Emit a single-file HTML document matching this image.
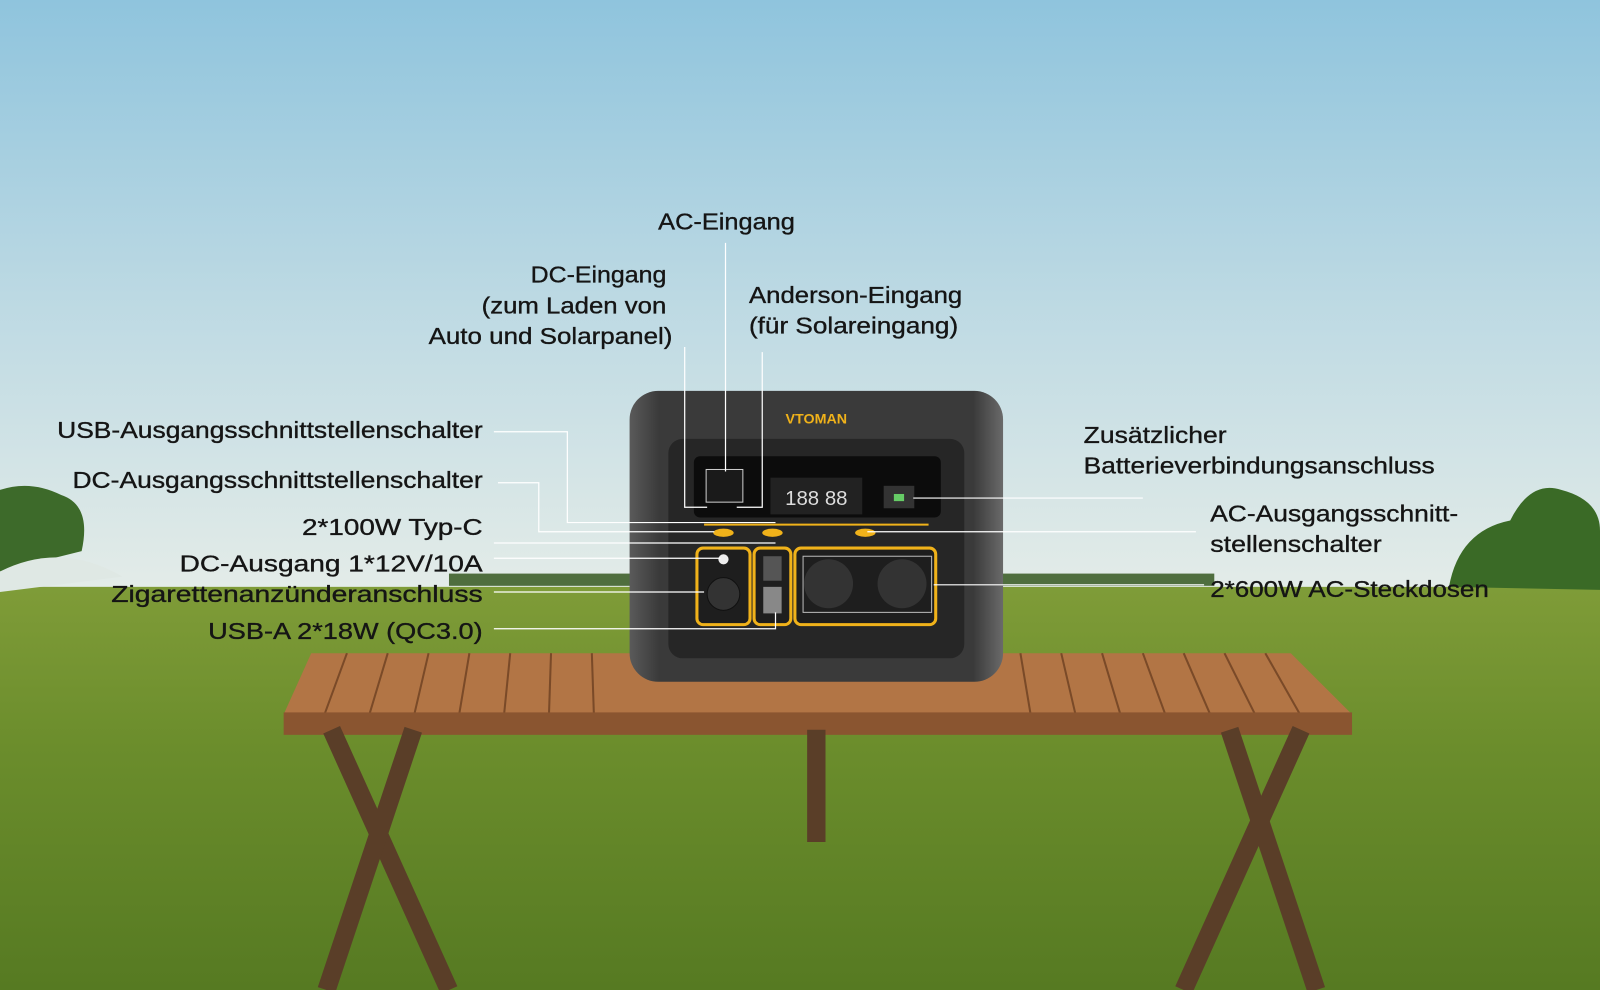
<!DOCTYPE html>
<html><head><meta charset="utf-8"><style>
html,body{margin:0;padding:0;width:1600px;height:990px;overflow:hidden}
svg{display:block}
text{font-family:"Liberation Sans",sans-serif;font-size:23px;fill:#151515;stroke:#151515;stroke-width:0.35}
</style></head><body>
<svg width="1600" height="990" viewBox="0 0 1568 970" preserveAspectRatio="none">
<defs>
<linearGradient id="sky" x1="0" y1="0" x2="0" y2="1">
<stop offset="0" stop-color="#8fc4dd"/><stop offset="0.5" stop-color="#bcd9e3"/><stop offset="1" stop-color="#e4ece8"/></linearGradient>
<linearGradient id="grass" x1="0" y1="0" x2="0" y2="1">
<stop offset="0" stop-color="#7f9c38"/><stop offset="0.4" stop-color="#6b8d2c"/><stop offset="1" stop-color="#567a22"/></linearGradient>
<linearGradient id="body" x1="0" y1="0" x2="1" y2="0">
<stop offset="0" stop-color="#5a5a5a"/><stop offset="0.08" stop-color="#3a3a3a"/><stop offset="0.92" stop-color="#3a3a3a"/><stop offset="1" stop-color="#6a6a6a"/></linearGradient>
</defs>
<rect width="1568" height="580" fill="url(#sky)"/>
<rect y="575" width="1568" height="395" fill="url(#grass)"/>
<path d="M0 480 Q30 470 60 485 Q90 495 80 540 L0 560Z" fill="#3d6a2a"/>
<path d="M0 560 Q60 530 120 565 L0 580Z" fill="#dfe8e4"/>
<rect x="440" y="562" width="180" height="12" fill="#4f6e3e"/>
<rect x="980" y="562" width="210" height="12" fill="#4f6e3e"/>
<path d="M1420 575 Q1430 520 1480 510 Q1500 470 1530 480 Q1568 490 1568 520 L1568 578Z" fill="#3a6a26"/>
<polygon points="305,640 1265,640 1325,700 278,700" fill="#b27545"/>
<g stroke="#7a4a28" stroke-width="2">
<line x1="340" y1="640" x2="318" y2="700"/><line x1="380" y1="640" x2="362" y2="700"/><line x1="420" y1="640" x2="406" y2="700"/><line x1="460" y1="640" x2="450" y2="700"/><line x1="500" y1="640" x2="494" y2="700"/><line x1="540" y1="640" x2="538" y2="700"/><line x1="580" y1="640" x2="582" y2="700"/><line x1="1000" y1="640" x2="1010" y2="700"/><line x1="1040" y1="640" x2="1054" y2="700"/><line x1="1080" y1="640" x2="1098" y2="700"/><line x1="1120" y1="640" x2="1142" y2="700"/><line x1="1160" y1="640" x2="1186" y2="700"/><line x1="1200" y1="640" x2="1230" y2="700"/><line x1="1240" y1="640" x2="1274" y2="700"/>
</g>
<rect x="278" y="698" width="1047" height="22" fill="#8a5530"/>
<g stroke="#5a3e28" stroke-width="18">
<line x1="325" y1="715" x2="440" y2="970"/><line x1="405" y1="715" x2="320" y2="970"/>
<line x1="1275" y1="715" x2="1160" y2="970"/><line x1="1205" y1="715" x2="1290" y2="970"/>
<line x1="800" y1="715" x2="800" y2="825"/></g>
<rect x="617" y="383" width="366" height="285" rx="28" fill="url(#body)"/>
<rect x="655" y="430" width="290" height="215" rx="14" fill="#262626"/>
<text x="800" y="415" text-anchor="middle" style="font-size:14px;font-weight:bold;fill:#f0b21a;stroke:none">VTOMAN</text>
<rect x="680" y="447" width="242" height="60" rx="6" fill="#0c0c0c"/>
<rect x="692" y="460" width="36" height="32" fill="#1a1a1a" stroke="#ccc"/>
<rect x="755" y="468" width="90" height="36" fill="#222"/>
<text x="800" y="495" text-anchor="middle" style="font-size:20px;fill:#ddd;stroke:none">188 88</text>
<rect x="866" y="476" width="30" height="22" fill="#333"/><rect x="876" y="484" width="10" height="7" fill="#6c6"/>
<line x1="690" y1="514" x2="910" y2="514" stroke="#f0b21a" stroke-width="2"/>
<ellipse cx="709" cy="522" rx="10" ry="4" fill="#f0b21a"/><ellipse cx="757" cy="522" rx="10" ry="4" fill="#f0b21a"/><ellipse cx="848" cy="522" rx="10" ry="4" fill="#f0b21a"/>
<g fill="#1e1e1e" stroke="#f0b21a" stroke-width="3">
<rect x="683" y="537" width="52" height="75" rx="6"/><rect x="739" y="537" width="36" height="75" rx="6"/><rect x="779" y="537" width="138" height="75" rx="6"/></g>
<circle cx="709" cy="548" r="5" fill="#eee"/><circle cx="709" cy="582" r="16" fill="#333" stroke="#111"/>
<rect x="748" y="545" width="18" height="24" fill="#555"/><rect x="748" y="575" width="18" height="26" fill="#888"/>
<circle cx="812" cy="572" r="24" fill="#333"/><circle cx="884" cy="572" r="24" fill="#333"/>
<rect x="787" y="545" width="126" height="55" fill="none" stroke="#bbb"/>
<g stroke="#fff" stroke-width="1.2" fill="none">
<path d="M711 238 V462"/><path d="M671 340 V497 H693"/><path d="M747 345 V497 H722"/>
<path d="M484 423 H556 V512 H760"/><path d="M488 473 H528 V521 H700"/>
<path d="M484 532 H760"/><path d="M484 547 H706"/><path d="M484 580 H690"/>
<path d="M484 616 H760 V600"/>
<path d="M1120 488 H895"/><path d="M1172 521 H850"/><path d="M1180 573 H915"/>
</g>
<g lengthAdjust="spacingAndGlyphs">
<text x="645" y="225" textLength="134" lengthAdjust="spacingAndGlyphs">AC-Eingang</text>
<text x="520" y="277" textLength="133" lengthAdjust="spacingAndGlyphs">DC-Eingang</text>
<text x="472" y="307" textLength="181" lengthAdjust="spacingAndGlyphs">(zum Laden von</text>
<text x="420" y="337" textLength="239" lengthAdjust="spacingAndGlyphs">Auto und Solarpanel)</text>
<text x="734" y="297" textLength="209" lengthAdjust="spacingAndGlyphs">Anderson-Eingang</text>
<text x="734" y="327" textLength="205" lengthAdjust="spacingAndGlyphs">(für Solareingang)</text>
<text x="56" y="429" textLength="417" lengthAdjust="spacingAndGlyphs">USB-Ausgangsschnittstellenschalter</text>
<text x="71" y="478" textLength="402" lengthAdjust="spacingAndGlyphs">DC-Ausgangsschnittstellenschalter</text>
<text x="296" y="524" textLength="177" lengthAdjust="spacingAndGlyphs">2*100W Typ-C</text>
<text x="176" y="560" textLength="297" lengthAdjust="spacingAndGlyphs">DC-Ausgang 1*12V/10A</text>
<text x="109" y="590" textLength="364" lengthAdjust="spacingAndGlyphs">Zigarettenanzünderanschluss</text>
<text x="204" y="626" textLength="269" lengthAdjust="spacingAndGlyphs">USB-A 2*18W (QC3.0)</text>
<text x="1062" y="434" textLength="140" lengthAdjust="spacingAndGlyphs">Zusätzlicher</text>
<text x="1062" y="464" textLength="344" lengthAdjust="spacingAndGlyphs">Batterieverbindungsanschluss</text>
<text x="1186" y="511" textLength="243" lengthAdjust="spacingAndGlyphs">AC-Ausgangsschnitt-</text>
<text x="1186" y="541" textLength="168" lengthAdjust="spacingAndGlyphs">stellenschalter</text>
<text x="1186" y="585" textLength="273" lengthAdjust="spacingAndGlyphs">2*600W AC-Steckdosen</text>
</g>
</svg>
</body></html>
